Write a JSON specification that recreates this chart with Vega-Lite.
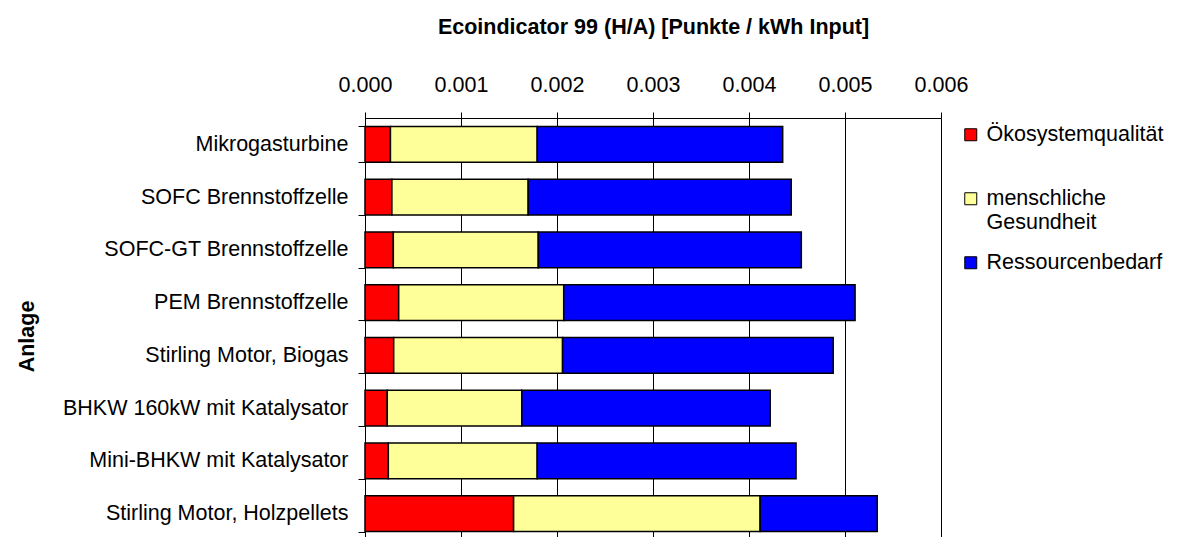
{
  "$schema": "https://vega.github.io/schema/vega-lite/v6.json",
  "width": 576,
  "height": 422,
  "autosize": {"type": "none"},
  "padding": {"left": 365, "top": 118, "right": 240, "bottom": 0},
  "background": "white",
  "config": {"font": "Liberation Sans", "view": {"stroke": null}},
  "data": {
    "values": [
      {"Anlage": "Mikrogasturbine", "Kategorie": "Ökosystemqualität", "Wert": 0.000265},
      {"Anlage": "Mikrogasturbine", "Kategorie": "menschliche Gesundheit", "Wert": 0.001529},
      {"Anlage": "Mikrogasturbine", "Kategorie": "Ressourcenbedarf", "Wert": 0.002557},
      {"Anlage": "SOFC Brennstoffzelle", "Kategorie": "Ökosystemqualität", "Wert": 0.00028},
      {"Anlage": "SOFC Brennstoffzelle", "Kategorie": "menschliche Gesundheit", "Wert": 0.00142},
      {"Anlage": "SOFC Brennstoffzelle", "Kategorie": "Ressourcenbedarf", "Wert": 0.00274},
      {"Anlage": "SOFC-GT Brennstoffzelle", "Kategorie": "Ökosystemqualität", "Wert": 0.000295},
      {"Anlage": "SOFC-GT Brennstoffzelle", "Kategorie": "menschliche Gesundheit", "Wert": 0.00151},
      {"Anlage": "SOFC-GT Brennstoffzelle", "Kategorie": "Ressourcenbedarf", "Wert": 0.00274},
      {"Anlage": "PEM Brennstoffzelle", "Kategorie": "Ökosystemqualität", "Wert": 0.000351},
      {"Anlage": "PEM Brennstoffzelle", "Kategorie": "menschliche Gesundheit", "Wert": 0.001719},
      {"Anlage": "PEM Brennstoffzelle", "Kategorie": "Ressourcenbedarf", "Wert": 0.003035},
      {"Anlage": "Stirling Motor, Biogas", "Kategorie": "Ökosystemqualität", "Wert": 0.000299},
      {"Anlage": "Stirling Motor, Biogas", "Kategorie": "menschliche Gesundheit", "Wert": 0.001759},
      {"Anlage": "Stirling Motor, Biogas", "Kategorie": "Ressourcenbedarf", "Wert": 0.002819},
      {"Anlage": "BHKW 160kW mit Katalysator", "Kategorie": "Ökosystemqualität", "Wert": 0.000232},
      {"Anlage": "BHKW 160kW mit Katalysator", "Kategorie": "menschliche Gesundheit", "Wert": 0.001401},
      {"Anlage": "BHKW 160kW mit Katalysator", "Kategorie": "Ressourcenbedarf", "Wert": 0.002588},
      {"Anlage": "Mini-BHKW mit Katalysator", "Kategorie": "Ökosystemqualität", "Wert": 0.000243},
      {"Anlage": "Mini-BHKW mit Katalysator", "Kategorie": "menschliche Gesundheit", "Wert": 0.001551},
      {"Anlage": "Mini-BHKW mit Katalysator", "Kategorie": "Ressourcenbedarf", "Wert": 0.002696},
      {"Anlage": "Stirling Motor, Holzpellets", "Kategorie": "Ökosystemqualität", "Wert": 0.001548},
      {"Anlage": "Stirling Motor, Holzpellets", "Kategorie": "menschliche Gesundheit", "Wert": 0.002568},
      {"Anlage": "Stirling Motor, Holzpellets", "Kategorie": "Ressourcenbedarf", "Wert": 0.00122}
    ]
  },
  "mark": {"type": "bar", "stroke": "black", "strokeWidth": 1.5},
  "encoding": {
    "y": {
      "field": "Anlage",
      "type": "nominal",
      "sort": null,
      "scale": {"paddingInner": 0.323, "paddingOuter": 0.16},
      "axis": {
        "title": "Anlage",
        "titleFontSize": 21.5,
        "titleFontWeight": "bold",
        "titleColor": "black",
        "titleX": -332,
        "titleY": 218,
        "titleBaseline": "alphabetic",
        "labelFontSize": 21.5,
        "labelColor": "black",
        "labelPadding": 10,
        "labelLimit": 400,
        "tickBand": "extent",
        "tickSize": 7,
        "tickColor": "black",
        "domainColor": "black"
      }
    },
    "x": {
      "field": "Wert",
      "type": "quantitative",
      "stack": "zero",
      "scale": {"domain": [0, 0.006], "nice": false},
      "axis": {
        "orient": "top",
        "title": "Ecoindicator 99 (H/A) [Punkte / kWh Input]",
        "titleFontSize": 21.5,
        "titleFontWeight": "bold",
        "titleColor": "black",
        "titlePadding": 36,
        "format": ".3f",
        "values": [0, 0.001, 0.002, 0.003, 0.004, 0.005, 0.006],
        "labelFlush": false,
        "labelOverlap": false,
        "grid": true,
        "gridColor": "black",
        "gridOpacity": 1,
        "labelFontSize": 21.5,
        "labelColor": "black",
        "labelPadding": 16,
        "tickSize": 6,
        "tickColor": "black",
        "domainColor": "black"
      }
    },
    "color": {
      "field": "Kategorie",
      "type": "nominal",
      "scale": {
        "domain": ["Ökosystemqualität", "menschliche Gesundheit", "Ressourcenbedarf"],
        "range": ["#FF0000", "#FFFF99", "#0000FF"]
      },
      "legend": {
        "title": null,
        "orient": "right",
        "offset": 13,
        "padding": 6,
        "symbolType": "square",
        "symbolSize": 144,
        "symbolStrokeColor": "black",
        "symbolStrokeWidth": 1,
        "labelFontSize": 21.5,
        "labelColor": "black",
        "labelOffset": 5,
        "labelLimit": 300,
        "labelBaseline": "top",
        "gridAlign": "all",
        "rowPadding": 17,
        "labelExpr": "datum.label == 'menschliche Gesundheit' ? ['menschliche', 'Gesundheit'] : datum.label",
        "encode": {"labels": {"update": {"dy": {"value": -11}, "lineHeight": {"value": 24}}}}
      }
    },
    "order": {"field": "Kategorie", "sort": "descending"}
  }
}
